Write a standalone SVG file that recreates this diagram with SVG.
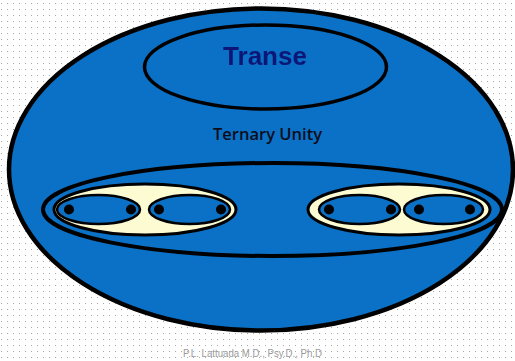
<svg xmlns="http://www.w3.org/2000/svg" width="515" height="361" viewBox="0 0 515 361">
  <defs>
    <pattern id="dots" x="0" y="0" width="6" height="6" patternUnits="userSpaceOnUse">
      <rect x="1" y="3" width="1" height="1" fill="#a8a8a8"/>
    </pattern>
    <filter id="soft" x="-10%" y="-20%" width="120%" height="140%">
      <feGaussianBlur stdDeviation="0.6"/>
    </filter>
  </defs>
  <style>
    .blue { fill: #0a71c6; stroke: #000; }
    .cream { fill: #fdfbd2; stroke: #000; stroke-width: 3; }
    .pair { fill: #0a71c6; stroke: #000; stroke-width: 2.5; }
    .dot { fill: #000; }
    .title { font-family: "Liberation Sans", Arial, sans-serif; font-weight: bold; font-size: 26px; fill: #0a1876; }
    .label { font-family: "Open Sans", sans-serif; font-weight: 600; font-size: 16.5px; fill: #0d0d1a; }
    .foot { font-family: "Liberation Sans", Arial, sans-serif; font-size: 10px; fill: #9a9a9a; }
  </style>
  <rect width="515" height="361" fill="#ffffff"/>
  <rect width="515" height="361" fill="url(#dots)"/>

  <g id="outer">
    <ellipse class="blue" cx="261" cy="169.5" rx="252" ry="161" stroke-width="4.5"/>
  </g>

  <g id="transe">
    <ellipse class="blue" cx="265.5" cy="67" rx="121" ry="42" stroke-width="3.5"/>
    <text class="title" x="265" y="65" text-anchor="middle" filter="url(#soft)">Transe</text>
  </g>

  <g id="ternary-label">
    <text class="label" x="213" y="140" textLength="109" lengthAdjust="spacingAndGlyphs">Ternary Unity</text>
  </g>

  <g id="ternary">
    <ellipse class="blue" cx="272.5" cy="209.5" rx="229.5" ry="46.5" stroke-width="4"/>
  </g>

  <g id="left-group">
    <ellipse class="cream" cx="145" cy="209.5" rx="91" ry="25.5"/>
    <ellipse class="pair" cx="98.5" cy="209.5" rx="41.5" ry="14.5"/>
    <ellipse class="pair" cx="189.5" cy="209.5" rx="40.5" ry="14.5"/>
    <circle class="dot" cx="69" cy="209.5" r="5"/>
    <circle class="dot" cx="131" cy="209.5" r="5"/>
    <circle class="dot" cx="159" cy="209.5" r="5"/>
    <circle class="dot" cx="221" cy="209.5" r="5"/>
  </g>

  <g id="right-group">
    <ellipse class="cream" cx="399" cy="209.5" rx="91" ry="25.5"/>
    <ellipse class="pair" cx="359.5" cy="209.5" rx="40.5" ry="14.5"/>
    <ellipse class="pair" cx="443.5" cy="209.5" rx="39.5" ry="14.5"/>
    <circle class="dot" cx="329" cy="209.5" r="5"/>
    <circle class="dot" cx="391" cy="209.5" r="5"/>
    <circle class="dot" cx="419" cy="209.5" r="5"/>
    <circle class="dot" cx="470" cy="209.5" r="5"/>
  </g>

  <g id="connectors"></g>

  <text class="foot" x="183" y="357" textLength="139" lengthAdjust="spacingAndGlyphs">P.L. Lattuada M.D., Psy.D., Ph.D</text>
</svg>
